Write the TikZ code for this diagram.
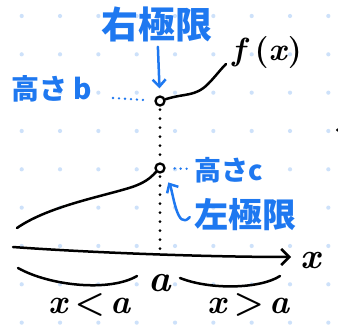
\documentclass[tikz,border=0pt]{standalone}
\usepackage{fontspec}
\newfontfamily\jp{Noto Sans CJK JP}
\usetikzlibrary{arrows.meta}
\definecolor{pen}{RGB}{30,120,240}
\definecolor{griddot}{RGB}{205,225,250}
\tikzset{
  ink/.style={line width=2.5pt, line cap=round, line join=round},
  blackpen/.style={ink, draw=black},
  bluepen/.style={ink, draw=pen},
  bluearrow/.style={bluepen, -{Straight Barb[length=7pt,width=13pt,line width=2.5pt]}},
  bluedots/.style={draw=pen, line width=2.6pt, line cap=round, dash pattern=on 0pt off 6pt},
  blackdots/.style={draw=black, line width=3.2pt, line cap=round, dash pattern=on 0pt off 9pt},
  opencirc/.style={circle, draw=black, line width=2.3pt, minimum size=9pt, inner sep=0pt},
  bluetext/.style={text=pen, inner sep=1pt},
  blacktext/.style={text=black, inner sep=1pt}
}
\begin{document}
\begin{tikzpicture}[x=1pt,y=-1pt]
\useasboundingbox (0,0) rectangle (338,326);
\fill[white] (0,0) rectangle (338,326);
% dot grid
\foreach \i in {0,...,8}{
  \foreach \j in {0,...,8}{
    \fill[griddot] (21.7+38.33*\i, 16+38.33*\j) circle (2.1);
  }
}
% stray mark at right edge
\fill[black] (337.5,130) circle (1.6);

% points
\node[opencirc] (B) at (160,101) {};
\node[opencirc] (C) at (160,168) {};
\coordinate (A) at (160,256);

% axis
\coordinate (ax0) at (13,247);
\coordinate (ax1) at (291,257);
\draw[blackpen, -{Straight Barb[length=8pt,width=16pt,line width=2.5pt]}] (ax0) .. controls (80,252) and (200,257) .. (ax1);
\node[blacktext, font=\bfseries\itshape\fontsize{36}{36}\selectfont] (xl) at (311,261) {x};

% curves
\coordinate (L0) at (17,228);
\draw[blackpen] (L0) .. controls (50,205) and (110,195) .. (135,186) .. controls (148,181) and (152,176) .. (C);
\coordinate (F0) at (226,64);
\draw[blackpen] (B) .. controls (185,93) and (195,97) .. (208,84) .. controls (215,77) and (220,70) .. (F0);
\node[blacktext, font=\bfseries\fontsize{32}{32}\selectfont] (fx) at (267,53) {\textit{f}\,(\textit{x})};

% vertical dotted
\draw[blackdots, shorten <=3pt] (B) -- (C);
\draw[blackdots, shorten <=3pt] (C) -- (A);

% braces
\coordinate (l0) at (18,268);
\coordinate (l1) at (137,276);
\draw[blackpen] (l0) .. controls (50,286) and (110,292) .. (l1);
\coordinate (r0) at (180,278);
\coordinate (r1) at (280,276);
\draw[blackpen] (r0) .. controls (210,290) and (260,289) .. (r1);
\node[blacktext, font=\bfseries\itshape\fontsize{38}{38}\selectfont] (aL) at (160,283) {a};
\node[blacktext, font=\bfseries\fontsize{34}{34}\selectfont] (xlt) at (90,305) {\textit{x}\,<\,\textit{a}};
\node[blacktext, font=\bfseries\fontsize{34}{34}\selectfont] (xgt) at (249,305) {\textit{x}\,>\,\textit{a}};

% blue annotations
\node[bluetext, font=\jp\bfseries\fontsize{37}{37}\selectfont] (rl) at (157,24) {右極限};
\draw[bluearrow, shorten <=4pt, shorten >=7pt] (rl) -- (B);

\node[bluetext, font=\jp\bfseries\fontsize{28}{28}\selectfont] (hb) at (52,89) {高さ b};
\coordinate (hbd) at (113,98);
\draw[bluedots, shorten >=10pt] (hbd) -- (B);

\node[bluetext, font=\jp\bfseries\fontsize{27}{27}\selectfont] (hc) at (229,170) {高さc};
\draw[bluedots, shorten <=9pt, shorten >=4pt] (C) -- (hc);

\node[bluetext, font=\jp\bfseries\fontsize{34}{34}\selectfont] (ll) at (245,215) {左極限};
\draw[bluearrow, shorten >=11pt] ([xshift=-3pt,yshift=-2pt]ll.west) to[out=-130, in=-60] (C);
\end{tikzpicture}
\end{document}
